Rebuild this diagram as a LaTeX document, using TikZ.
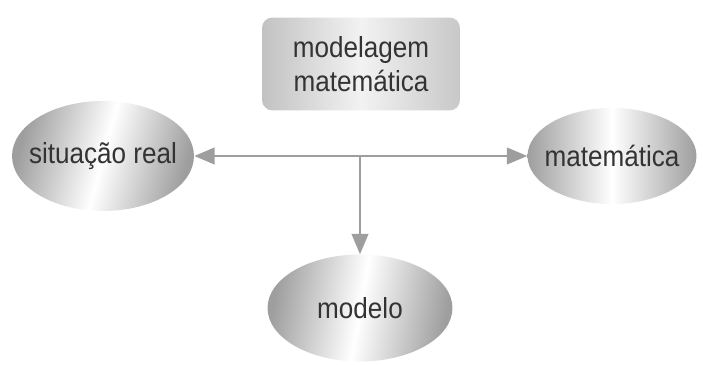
\documentclass[tikz,border=0pt]{standalone}
\usepackage{fontspec}
\setmainfont[FakeStretch=0.9]{Liberation Sans}
\usepackage{tikz}
\usetikzlibrary{arrows,shapes.geometric}
\definecolor{uuuuuu}{rgb}{0.62,0.62,0.62}
\definecolor{cbcbcb}{rgb}{0.76,0.76,0.76}
\definecolor{zzzzzz}{rgb}{0.2,0.2,0.2}
\tikzset{
  bolha/.style={ellipse,inner xsep=-0.5cm,inner ysep=0pt,text=zzzzzz,font=\fontsize{16.5}{19}\selectfont,
    left color=uuuuuu,right color=uuuuuu,middle color=white},
  caixa/.style={rectangle,rounded corners=6pt,inner sep=0pt,text=zzzzzz,align=center,
    font=\fontsize{16.5}{19}\selectfont,left color=cbcbcb,right color=cbcbcb!90,middle color=white!95!black},
  seta/.style={line width=1.7pt,color=uuuuuu}
}
\begin{document}
\begin{tikzpicture}[line cap=round,line join=round,>=triangle 45,x=0.02cm,y=0.02cm]
\useasboundingbox (0,0) rectangle (703,365);
\node [caixa,minimum width=3.96cm,minimum height=1.86cm] (modelagem) at (361,301) {modelagem\\matemática};
\node [bolha,minimum width=3.64cm,minimum height=2.2cm,shading angle=75] (situacao) at (103,209) {situação real};
\node [bolha,minimum width=3.38cm,minimum height=1.92cm] (matematica) at (612,209) {matemática};
\node [bolha,minimum width=3.7cm,minimum height=2.14cm,shading angle=80] (modelo) at (360,57) {modelo};
\coordinate (juncao) at (360,209);
\draw [seta,<->] (situacao) -- (matematica);
\draw [seta,->] (juncao) -- (modelo);
\end{tikzpicture}
\end{document}
